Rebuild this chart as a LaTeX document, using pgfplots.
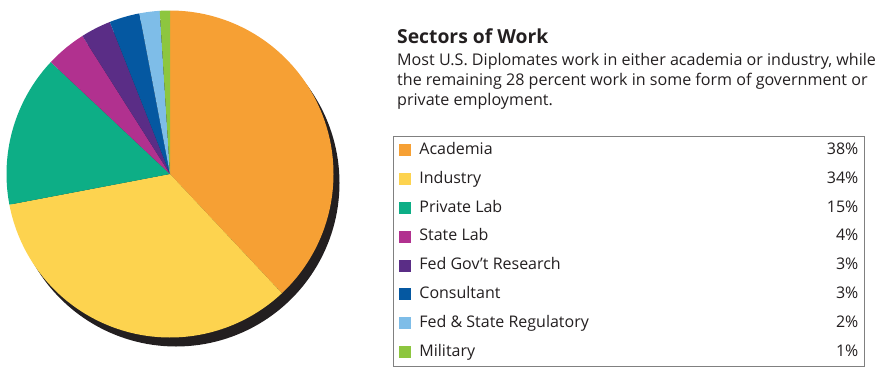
\documentclass[border=0pt]{standalone}
\usepackage{pgfplots}
\pgfplotsset{compat=1.18}
\usepackage{fontspec}
\setmainfont{Open Sans}
\definecolor{txt}{HTML}{231F20}
\definecolor{shadowc}{HTML}{231F20}
\definecolor{cAcad}{HTML}{F6A034}
\definecolor{cInd}{HTML}{FDD34F}
\definecolor{cPriv}{HTML}{0DAE86}
\definecolor{cState}{HTML}{B1318F}
\definecolor{cFed}{HTML}{5A2D86}
\definecolor{cCons}{HTML}{0558A1}
\definecolor{cReg}{HTML}{7EBDE8}
\definecolor{cMil}{HTML}{8DC63F}
\newcommand{\entry}[2]{\makebox[439pt][l]{#1\hfill #2\%}}
\begin{document}
\begin{tikzpicture}
\begin{axis}[
  scale only axis, width=882pt, height=376pt,
  xmin=0, xmax=882, ymin=0, ymax=376,
  hide axis, clip=false,
  legend cell align=left,
  legend image code/.code={\fill[#1] (0pt,-6pt) rectangle (12pt,6pt);},
  legend style={at={(axis cs:393,240.5)}, anchor=north west,
    draw=black!50, line width=0.8pt, fill=white,
    inner xsep=6pt, inner ysep=6.5pt, row sep=13.36pt, column sep=8pt,
    font=\fontsize{16}{18}\selectfont\color{txt},
    nodes={inner sep=0pt, text height=12pt, text depth=3.5pt}},
]
% shadow
\addplot[fill=shadowc, draw=none, domain=0:360, samples=181, forget plot]
  ({176+163.5*cos(x)},{193+163.5*sin(x)}) -- cycle;
% wedges: Academia 38, Industry 34, Private Lab 15, State Lab 4, Fed Gov't 3, Consultant 3, Regulatory 2, Military 1
\addplot[fill=cAcad, draw=none, domain=-46.8:90, samples=80]
  ({170+163.5*cos(x)},{202+163.5*sin(x)}) -- (axis cs:170,202) -- cycle;
\addlegendentry{\entry{Academia}{38}}
\addplot[fill=cInd, draw=none, domain=-169.2:-46.8, samples=80]
  ({170+163.5*cos(x)},{202+163.5*sin(x)}) -- (axis cs:170,202) -- cycle;
\addlegendentry{\entry{Industry}{34}}
\addplot[fill=cPriv, draw=none, domain=-223.2:-169.2, samples=40]
  ({170+163.5*cos(x)},{202+163.5*sin(x)}) -- (axis cs:170,202) -- cycle;
\addlegendentry{\entry{Private Lab}{15}}
\addplot[fill=cState, draw=none, domain=-237.6:-223.2, samples=12]
  ({170+163.5*cos(x)},{202+163.5*sin(x)}) -- (axis cs:170,202) -- cycle;
\addlegendentry{\entry{State Lab}{4}}
\addplot[fill=cFed, draw=none, domain=-248.4:-237.6, samples=10]
  ({170+163.5*cos(x)},{202+163.5*sin(x)}) -- (axis cs:170,202) -- cycle;
\addlegendentry{\entry{Fed Gov’t Research}{3}}
\addplot[fill=cCons, draw=none, domain=-259.2:-248.4, samples=10]
  ({170+163.5*cos(x)},{202+163.5*sin(x)}) -- (axis cs:170,202) -- cycle;
\addlegendentry{\entry{Consultant}{3}}
\addplot[fill=cReg, draw=none, domain=-266.4:-259.2, samples=8]
  ({170+163.5*cos(x)},{202+163.5*sin(x)}) -- (axis cs:170,202) -- cycle;
\addlegendentry{\entry{Fed \& State Regulatory}{2}}
\addplot[fill=cMil, draw=none, domain=-270:-266.4, samples=5]
  ({170+163.5*cos(x)},{202+163.5*sin(x)}) -- (axis cs:170,202) -- cycle;
\addlegendentry{\entry{Military}{1}}
% texts
\node[anchor=base west, inner sep=0pt, text=txt, font=\fontsize{19.3}{24}\selectfont\bfseries]
  at (axis cs:397,333) {Sectors of Work};
\node[anchor=base west, inner sep=0pt, text=txt, font=\fontsize{16.1}{20}\selectfont]
  at (axis cs:397,311) {Most U.S. Diplomates work in either academia or industry, while};
\node[anchor=base west, inner sep=0pt, text=txt, font=\fontsize{16.1}{20}\selectfont]
  at (axis cs:397,291) {the remaining 28 percent work in some form of government or};
\node[anchor=base west, inner sep=0pt, text=txt, font=\fontsize{16.1}{20}\selectfont]
  at (axis cs:397,271) {private employment.};
\end{axis}
\useasboundingbox (0,0) rectangle (882pt,376pt);
\end{tikzpicture}
\end{document}
